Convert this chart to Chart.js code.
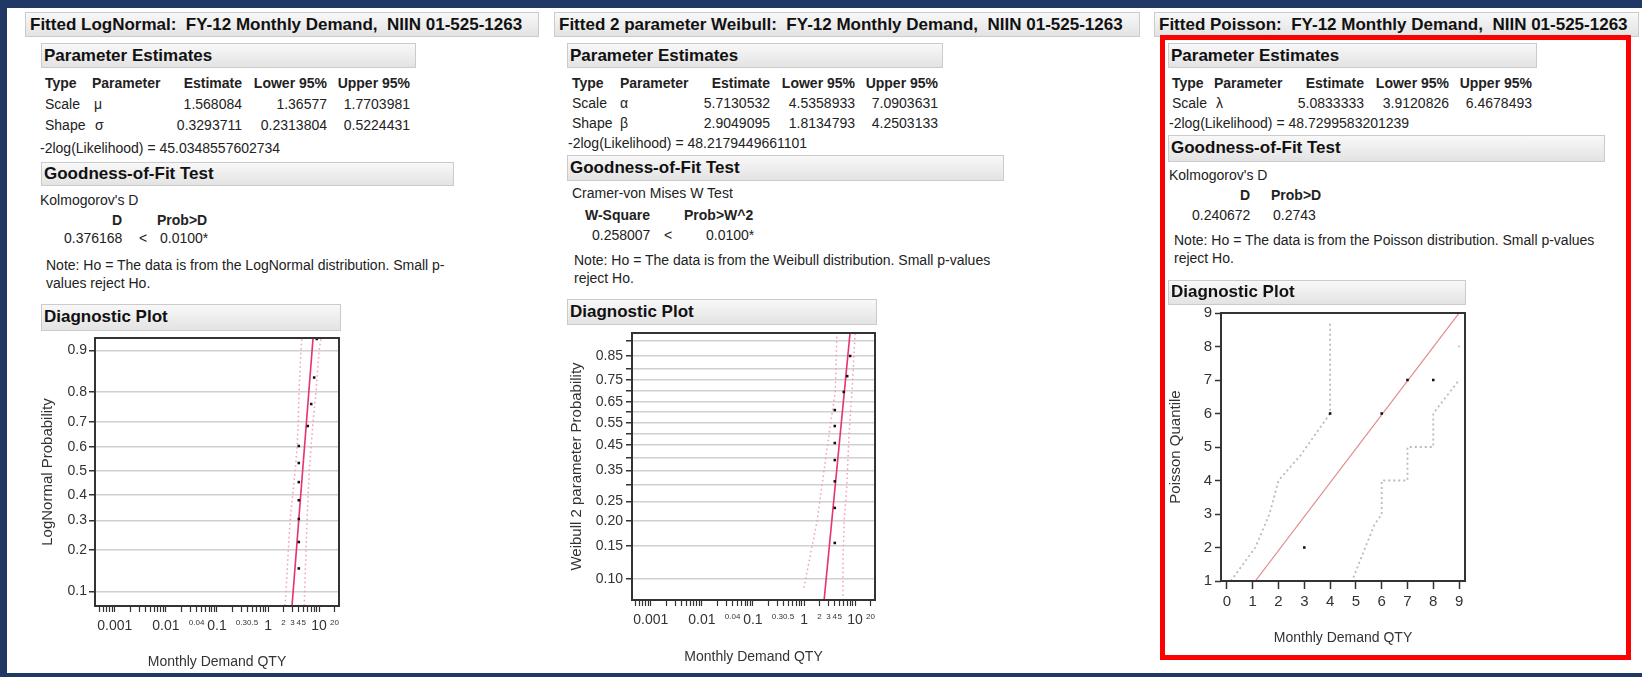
<!DOCTYPE html>
<html>
<head>
<meta charset="utf-8">
<script src="https://cdn.jsdelivr.net/npm/chart.js@4.4.1/dist/chart.umd.min.js"></script>
<style>
  body { margin: 0; background: #fff; }
  #page { position: relative; width: 1642px; height: 677px; overflow: hidden; background: #fff;
          font-family: "Liberation Sans", Arial, sans-serif; color: #222; }
  .nav { position: absolute; background: #1f3864; }
  .box { position: absolute; box-sizing: border-box; border: 1px solid #cbcbcb;
         background: linear-gradient(#f8f8f8, #e3e3e3); }
  .t { position: absolute; font-size: 14px; line-height: 16px; white-space: pre; }
  .h { font-size: 17px; line-height: 20px; font-weight: bold; color: #111; }
  .b { font-weight: bold; }
  #redbox { position: absolute; left: 1160px; top: 35px; width: 471px; height: 625px;
            box-sizing: border-box; border: 5px solid #ff0000; }
  canvas { position: absolute; }
</style>
</head>
<body>
<div id="page">
  <div class="nav" style="left:0;top:0;width:1642px;height:8px"></div>
  <div class="nav" style="left:0;top:0;width:7px;height:677px"></div>
  <div class="nav" style="left:0;top:673px;width:1642px;height:4px"></div>
  <div id="redbox"></div>
  <canvas id="lognormal" width="330" height="345" style="left:20px;top:330px"></canvas>
  <canvas id="weibull" width="330" height="345" style="left:560px;top:325px"></canvas>
  <canvas id="poisson" width="315" height="355" style="left:1163px;top:300px"></canvas>
</div>
<script>
// LogNormal diagnostic plot
const lnQty = [4, 4, 4, 4, 4, 4, 4, 6, 7, 8, 9];
const lnProb = [0.15, 0.225, 0.305, 0.378, 0.453, 0.534, 0.605, 0.684, 0.762, 0.84, 0.92];
const lnFitQty = [2.95, 7.6];
const lnFitProb = [0.076, 0.921];
const lnLowQty = [2.15, 2.25, 2.7, 3.4, 3.7, 3.9, 4.05, 4.4, 4.6];
const lnLowProb = [0.076, 0.1, 0.3, 0.5, 0.6, 0.7, 0.8, 0.9, 0.921];
const lnHighQty = [5.1, 5.8, 6.4, 7.6, 8.7, 10, 10.9];
const lnHighProb = [0.076, 0.3, 0.5, 0.7, 0.8, 0.9, 0.921];
const lnYTicks = [0.1, 0.2, 0.3, 0.4, 0.5, 0.6, 0.7, 0.8, 0.9];

// Weibull diagnostic plot
const wbQty = [4, 4, 4, 4, 4, 4, 4, 6, 7, 8];
const wbProb = [0.155, 0.233, 0.312, 0.389, 0.459, 0.535, 0.61, 0.696, 0.768, 0.85];
const wbFitQty = [2.47, 7.95];
const wbFitProb = [0.077, 0.922];
const wbLowQty = [1.0, 1.3, 1.8, 2.25, 3.1, 4.1, 4.4];
const wbLowProb = [0.09, 0.13, 0.2, 0.3, 0.5, 0.7, 0.922];
const wbHighQty = [5.8, 5.8, 6.1, 6.9, 7.6, 8.7, 10.0];
const wbHighProb = [0.077, 0.13, 0.2, 0.3, 0.5, 0.7, 0.922];
const wbYTicks = [0.10, 0.15, 0.20, 0.25, 0.30, 0.35, 0.40, 0.45, 0.50, 0.55, 0.60, 0.65, 0.70, 0.75, 0.80, 0.85, 0.90];
const wbYLabels = ["0.10", "0.15", "0.20", "0.25", "", "0.35", "", "0.45", "", "0.55", "", "0.65", "", "0.75", "", "0.85", ""];

// shared log axis labels
const xBigLabels = [0.001, 0.01, 0.1, 1, 10];
const xSmallLabels = [0.04, 0.3, 0.5, 2, 3, 4, 5, 20];

// Poisson diagnostic plot
const poQty = [3, 4, 6, 7, 8];
const poQuant = [2, 6, 6, 7, 7];
const poFitQty = [1.1, 9.2];
const poFitQuant = [1, 9.2];
const poUpQty = [0.15, 1.1, 1.65, 2.0, 2.85, 4.0, 4.0];
const poUpQuant = [1, 2, 3, 4, 4.75, 6, 8.75];
const poLowQty = [4.9, 5.7, 6, 6, 7, 7, 8, 8, 9];
const poLowQuant = [1.1, 2.65, 3, 4, 4, 5, 5, 6, 7];
const poDotQty = [9];
const poDotQuant = [8];
const poXTicks = [0, 1, 2, 3, 4, 5, 6, 7, 8, 9];
const poYTicks = [1, 2, 3, 4, 5, 6, 7, 8, 9];

const FONT = '"Liberation Sans", Arial, sans-serif';
Chart.defaults.font.family = FONT;

const page = document.getElementById("page");

function box(x1, y1, x2, y2) {
  const el = document.createElement("div");
  el.className = "box";
  el.style.left = x1 + "px";
  el.style.top = y1 + "px";
  el.style.width = x2 - x1 + "px";
  el.style.height = y2 - y1 + "px";
  page.appendChild(el);
}

function txt(x, y, s, cls, align) {
  const el = document.createElement("div");
  el.className = "t " + (cls || "");
  el.textContent = s;
  const lh = cls === "h" ? 20 : 16;
  el.style.top = y - lh / 2 + "px";
  if (align === "r") {
    el.style.left = x - 300 + "px";
    el.style.width = "300px";
    el.style.textAlign = "right";
  } else if (align === "c") {
    el.style.left = x - 150 + "px";
    el.style.width = "300px";
    el.style.textAlign = "center";
  } else {
    el.style.left = x + "px";
  }
  page.appendChild(el);
}

// ---- report text, panel 1
box(25, 12, 539, 37);
txt(30, 25, "Fitted LogNormal:  FY-12 Monthly Demand,  NIIN 01-525-1263", "h");
box(41, 43, 416, 68);
txt(44, 56, "Parameter Estimates", "h");
txt(45, 83, "Type", "b"); txt(92, 83, "Parameter", "b");
txt(242, 83, "Estimate", "b", "r"); txt(327, 83, "Lower 95%", "b", "r"); txt(410, 83, "Upper 95%", "b", "r");
txt(45, 104, "Scale"); txt(94, 104, "μ");
txt(242, 104, "1.568084", "", "r"); txt(327, 104, "1.36577", "", "r"); txt(410, 104, "1.7703981", "", "r");
txt(45, 125, "Shape"); txt(95, 125, "σ");
txt(242, 125, "0.3293711", "", "r"); txt(327, 125, "0.2313804", "", "r"); txt(410, 125, "0.5224431", "", "r");
txt(40, 148, "-2log(Likelihood) = 45.0348557602734");
box(41, 162, 454, 186);
txt(44, 174, "Goodness-of-Fit Test", "h");
txt(40, 200, "Kolmogorov's D");
txt(117, 220, "D", "b", "c"); txt(157, 220, "Prob>D", "b");
txt(64, 238, "0.376168"); txt(143, 238, "<", "", "c"); txt(160, 238, "0.0100*");
txt(46, 265, "Note: Ho = The data is from the LogNormal distribution. Small p-");
txt(46, 283, "values reject Ho.");
box(41, 304, 341, 331);
txt(44, 317, "Diagnostic Plot", "h");

// ---- report text, panel 2
box(554, 12, 1140, 37);
txt(559, 25, "Fitted 2 parameter Weibull:  FY-12 Monthly Demand,  NIIN 01-525-1263", "h");
box(567, 43, 943, 68);
txt(570, 56, "Parameter Estimates", "h");
txt(572, 83, "Type", "b"); txt(620, 83, "Parameter", "b");
txt(770, 83, "Estimate", "b", "r"); txt(855, 83, "Lower 95%", "b", "r"); txt(938, 83, "Upper 95%", "b", "r");
txt(572, 103, "Scale"); txt(620, 103, "α");
txt(770, 103, "5.7130532", "", "r"); txt(855, 103, "4.5358933", "", "r"); txt(938, 103, "7.0903631", "", "r");
txt(572, 123, "Shape"); txt(620, 123, "β");
txt(770, 123, "2.9049095", "", "r"); txt(855, 123, "1.8134793", "", "r"); txt(938, 123, "4.2503133", "", "r");
txt(568, 143, "-2log(Likelihood) = 48.2179449661101");
box(567, 155, 1004, 181);
txt(570, 168, "Goodness-of-Fit Test", "h");
txt(572, 193, "Cramer-von Mises W Test");
txt(585, 215, "W-Square", "b"); txt(684, 215, "Prob>W^2", "b");
txt(592, 235, "0.258007"); txt(668, 235, "<", "", "c"); txt(706, 235, "0.0100*");
txt(574, 260, "Note: Ho = The data is from the Weibull distribution. Small p-values");
txt(574, 278, "reject Ho.");
box(567, 299, 877, 325);
txt(570, 312, "Diagnostic Plot", "h");

// ---- report text, panel 3
box(1154, 12, 1639, 37);
txt(1159, 25, "Fitted Poisson:  FY-12 Monthly Demand,  NIIN 01-525-1263", "h");
box(1168, 43, 1537, 68);
txt(1171, 56, "Parameter Estimates", "h");
txt(1172, 83, "Type", "b"); txt(1214, 83, "Parameter", "b");
txt(1364, 83, "Estimate", "b", "r"); txt(1449, 83, "Lower 95%", "b", "r"); txt(1532, 83, "Upper 95%", "b", "r");
txt(1172, 103, "Scale"); txt(1216, 103, "λ");
txt(1364, 103, "5.0833333", "", "r"); txt(1449, 103, "3.9120826", "", "r"); txt(1532, 103, "6.4678493", "", "r");
txt(1169, 123, "-2log(Likelihood) = 48.7299583201239");
box(1168, 135, 1605, 162);
txt(1171, 148, "Goodness-of-Fit Test", "h");
txt(1169, 175, "Kolmogorov's D");
txt(1245, 195, "D", "b", "c"); txt(1271, 195, "Prob>D", "b");
txt(1192, 215, "0.240672"); txt(1273, 215, "0.2743");
txt(1174, 240, "Note: Ho = The data is from the Poisson distribution. Small p-values");
txt(1174, 258, "reject Ho.");
box(1168, 280, 1466, 305);
txt(1171, 292, "Diagnostic Plot", "h");
document.getElementById("redbox").remove();
page.appendChild(Object.assign(document.createElement("div"), { id: "redbox" }));

// inverse normal cdf (Acklam) for the probability axis
function probit(p) {
  const a = [-39.69683028665376, 220.9460984245205, -275.9285104469687, 138.357751867269, -30.66479806614716, 2.506628277459239];
  const b = [-54.47609879822406, 161.5858368580409, -155.6989798598866, 66.80131188771972, -13.28068155288572];
  const c = [-0.007784894002430293, -0.3223964580411365, -2.400758277161838, -2.549732539343734, 4.374664141464968, 2.938163982698783];
  const d = [0.007784695709041462, 0.3224671290700398, 2.445134137142996, 3.754408661907416];
  const pl = 0.02425;
  let q, r;
  if (p < pl) {
    q = Math.sqrt(-2 * Math.log(p));
    return (((((c[0] * q + c[1]) * q + c[2]) * q + c[3]) * q + c[4]) * q + c[5]) / ((((d[0] * q + d[1]) * q + d[2]) * q + d[3]) * q + 1);
  }
  if (p > 1 - pl) {
    q = Math.sqrt(-2 * Math.log(1 - p));
    return -(((((c[0] * q + c[1]) * q + c[2]) * q + c[3]) * q + c[4]) * q + c[5]) / ((((d[0] * q + d[1]) * q + d[2]) * q + d[3]) * q + 1);
  }
  q = p - 0.5;
  r = q * q;
  return (((((a[0] * r + a[1]) * r + a[2]) * r + a[3]) * r + a[4]) * r + a[5]) * q / (((((b[0] * r + b[1]) * r + b[2]) * r + b[3]) * r + b[4]) * r + 1);
}

// weibull probability axis
function weib(p) {
  return Math.log(-Math.log(1 - p));
}

function pts(xs, ys, f) {
  return xs.map((x, i) => ({ x: x, y: f ? f(ys[i]) : ys[i] }));
}

const frame = {
  id: "frame",
  afterDatasetsDraw(chart) {
    const { ctx, chartArea: a } = chart;
    ctx.save();
    ctx.strokeStyle = "#333";
    ctx.lineWidth = 2;
    ctx.strokeRect(a.left, a.top, a.right - a.left, a.bottom - a.top);
    ctx.restore();
  },
};

const isNear = (arr, v) => arr.some((t) => Math.abs(t - v) / t < 1e-6);

// minor ticks of the log axis
function logTickValues(min, max) {
  const out = [];
  [0.0001, 0.001, 0.01, 0.1, 1, 10].forEach((dec) => {
    for (let m = 1; m <= 9; m++) {
      const v = m * dec;
      if (v >= min && v <= max) out.push(v);
    }
  });
  return out;
}

function probChart(id, o) {
  const xMin = o.xRange[0], xMax = o.xRange[1];
  const ticks = logTickValues(xMin, xMax);
  return new Chart(document.getElementById(id), {
    type: "scatter",
    data: {
      datasets: [
        { data: pts(o.qty, o.prob, o.f), pointStyle: "rect", pointRadius: 1.8, backgroundColor: "#111", borderColor: "#111", borderWidth: 0 },
        { data: pts(o.fitQty, o.fitProb, o.f), showLine: true, pointRadius: 0, borderColor: "#e8336e", borderWidth: 1.6 },
        { data: pts(o.lowQty, o.lowProb, o.f), showLine: true, pointRadius: 0, borderColor: "#f19bbb", borderWidth: 1.5, borderDash: [1.5, 3] },
        { data: pts(o.highQty, o.highProb, o.f), showLine: true, pointRadius: 0, borderColor: "#f19bbb", borderWidth: 1.5, borderDash: [1.5, 3] },
      ],
    },
    options: {
      responsive: false,
      animation: false,
      layout: { padding: { left: 0, top: o.padTop, right: o.padRight, bottom: 0 } },
      plugins: { legend: { display: false }, tooltip: { enabled: false } },
      scales: {
        x: {
          type: "logarithmic",
          min: xMin,
          max: xMax,
          afterBuildTicks: (s) => { s.ticks = ticks.map((v) => ({ value: v })); },
          afterFit: (s) => { s.height = o.xHeight; s.paddingLeft = 0; s.paddingRight = 0; },
          ticks: {
            autoSkip: false,
            maxRotation: 0,
            padding: 6,
            color: "#333",
            callback: (v) => (isNear(xBigLabels, v) || isNear(xSmallLabels, v) ? String(Number(v.toPrecision(3))) : ""),
            font: (ctx) => ({ family: FONT, size: ctx.tick && isNear(xBigLabels, ctx.tick.value) ? 14 : 8 }),
          },
          grid: { drawOnChartArea: false, tickLength: 6, tickColor: "#333", tickWidth: 1.2 },
          border: { display: false },
          title: { display: true, text: "Monthly Demand QTY", color: "#333", font: { size: 14 }, padding: { top: 0, bottom: 4.6 } },
        },
        y: {
          type: "linear",
          min: o.f(o.yRange[0]),
          max: o.f(o.yRange[1]),
          afterBuildTicks: (s) => { s.ticks = o.yTicks.map((p) => ({ value: o.f(p) })); },
          afterFit: (s) => { s.width = o.yWidth; s.paddingTop = 0; s.paddingBottom = 0; },
          ticks: { autoSkip: false, padding: o.yPad, color: "#333", font: { size: 14 }, callback: (v, i) => o.yLabels[i] },
          grid: { color: "#d0d0d0", lineWidth: 1.5, tickLength: 6, tickColor: "#333", tickWidth: 1.5 },
          border: { display: false },
          title: { display: true, text: o.yTitle, color: "#333", font: { size: 15 }, padding: { top: o.yTitlePad, bottom: 0 } },
        },
      },
    },
    plugins: [frame],
  });
}

probChart("lognormal", {
  f: probit,
  qty: lnQty, prob: lnProb,
  fitQty: lnFitQty, fitProb: lnFitProb,
  lowQty: lnLowQty, lowProb: lnLowProb,
  highQty: lnHighQty, highProb: lnHighProb,
  xRange: [0.00041, 24.5],
  yRange: [0.0755, 0.9215],
  yTicks: lnYTicks,
  yLabels: lnYTicks.map((p) => p.toFixed(1)),
  yTitle: "LogNormal Probability",
  padTop: 8, padRight: 11, xHeight: 69, yWidth: 75, yPad: 2, yTitlePad: 19,
});

probChart("weibull", {
  f: weib,
  qty: wbQty, prob: wbProb,
  fitQty: wbFitQty, fitProb: wbFitProb,
  lowQty: wbLowQty, lowProb: wbLowProb,
  highQty: wbHighQty, highProb: wbHighProb,
  xRange: [0.00043, 24.5],
  yRange: [0.0773, 0.9223],
  yTicks: wbYTicks,
  yLabels: wbYLabels,
  yTitle: "Weibull 2 parameter Probability",
  padTop: 8, padRight: 15, xHeight: 70, yWidth: 72, yPad: 3, yTitlePad: 8,
});

new Chart(document.getElementById("poisson"), {
  type: "scatter",
  data: {
    datasets: [
      { data: pts(poQty, poQuant), pointStyle: "rect", pointRadius: 1.8, backgroundColor: "#111", borderColor: "#111", borderWidth: 0 },
      { data: pts(poDotQty, poDotQuant), pointRadius: 1, backgroundColor: "#c8bcc0", borderWidth: 0 },
      { data: pts(poFitQty, poFitQuant), showLine: true, pointRadius: 0, borderColor: "#e28a8a", borderWidth: 1.2 },
      { data: pts(poUpQty, poUpQuant), showLine: true, pointRadius: 0, borderColor: "#c4b6bb", borderWidth: 1.8, borderDash: [2, 3] },
      { data: pts(poLowQty, poLowQuant), showLine: true, pointRadius: 0, borderColor: "#c4b6bb", borderWidth: 1.8, borderDash: [2, 3] },
    ],
  },
  options: {
    responsive: false,
    animation: false,
    layout: { padding: { left: 0, top: 13, right: 13, bottom: 0 } },
    plugins: { legend: { display: false }, tooltip: { enabled: false } },
    scales: {
      x: {
        type: "linear",
        min: -0.23,
        max: 9.23,
        afterBuildTicks: (s) => { s.ticks = poXTicks.map((v) => ({ value: v })); },
        afterFit: (s) => { s.height = 74; s.paddingLeft = 0; s.paddingRight = 0; },
        ticks: { autoSkip: false, maxRotation: 0, padding: 4, color: "#333", font: { size: 15 } },
        grid: { drawOnChartArea: false, tickLength: 8, tickColor: "#333", tickWidth: 1.5 },
        border: { display: false },
        title: { display: true, text: "Monthly Demand QTY", color: "#333", font: { size: 14 }, padding: { top: 0, bottom: 8 } },
      },
      y: {
        type: "linear",
        min: 1,
        max: 9,
        afterBuildTicks: (s) => { s.ticks = poYTicks.map((v) => ({ value: v })); },
        afterFit: (s) => { s.width = 58; s.paddingTop = 0; s.paddingBottom = 0; },
        ticks: { autoSkip: false, padding: 3, color: "#333", font: { size: 15 } },
        grid: { drawOnChartArea: false, tickLength: 6, tickColor: "#333", tickWidth: 1.5 },
        border: { display: false },
        title: { display: true, text: "Poisson Quantile", color: "#333", font: { size: 15 }, padding: { top: 4, bottom: 0 } },
      },
    },
  },
  plugins: [frame],
});
</script>
</body>
</html>
